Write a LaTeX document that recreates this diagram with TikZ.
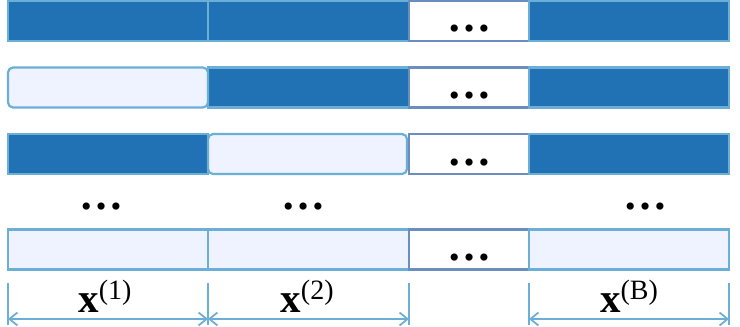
\documentclass[tikz,border=0pt]{standalone}
\usepackage{fontspec}
\setmainfont{Liberation Serif}
\usetikzlibrary{arrows.meta}
\definecolor{darkfill}{HTML}{2171B5}
\definecolor{lightfill}{HTML}{EFF3FF}
\definecolor{cellborder}{HTML}{6BAED6}
\definecolor{dotborder}{HTML}{6C8EBF}
\begin{document}
\begin{tikzpicture}[x=1pt,y=-1pt,
  cell/.style={rectangle, draw=cellborder, line width=2.2pt, inner sep=0pt, minimum height=40pt},
  darkcell/.style={cell, fill=darkfill},
  lightcell/.style={cell, fill=lightfill},
  roundcell/.style={cell, fill=lightfill, rounded corners=5pt},
  dotcell/.style={rectangle, draw=dotborder, line width=2.2pt, fill=white, inner sep=0pt, minimum height=40pt, minimum width=120pt},
  dotstext/.style={inner sep=0pt, font=\fontsize{44}{44}\bfseries\selectfont},
  tick/.style={draw=cellborder, line width=2.2pt},
  dimline/.style={draw=cellborder, line width=2.2pt, {Straight Barb[length=8pt,width=13pt,line width=1.8pt]}-{Straight Barb[length=8pt,width=13pt,line width=1.8pt]}},
  lbl/.style={inner sep=0pt, anchor=base}
]
\useasboundingbox (0,0) rectangle (740,327);
\newcommand{\xlab}[1]{\fontsize{41}{41}\selectfont\textbf{x}\raisebox{13pt}{\fontsize{28}{28}\selectfont(#1)}}
% row 1
\node[darkcell, minimum width=200pt] (a1) at (108,21) {};
\node[darkcell, minimum width=201pt] (a2) at (308.5,21) {};
\node[dotcell] (a3) at (469,21) {};
\node[darkcell, minimum width=200pt] (a4) at (629,21) {};
% row 2
\node[darkcell, minimum width=201pt] (b2) at (308.5,87.5) {};
\node[roundcell, minimum width=200pt] (b1) at (108,87.5) {};
\node[dotcell] (b3) at (469,87.5) {};
\node[darkcell, minimum width=200pt] (b4) at (629,87.5) {};
% row 3
\node[darkcell, minimum width=200pt] (c1) at (108,154) {};
\node[roundcell, minimum width=199pt] (c2) at (307.5,154) {};
\node[dotcell] (c3) at (469,154) {};
\node[darkcell, minimum width=200pt] (c4) at (629,154) {};
% row 5
\node[lightcell, minimum width=200pt] (e1) at (108,249.5) {};
\node[lightcell, minimum width=201pt] (e2) at (308.5,249.5) {};
\node[dotcell] (e3) at (469,249.5) {};
\node[lightcell, minimum width=200pt] (e4) at (629,249.5) {};
% dots in dot cells
\node[dotstext] (ad) at (469,29) {…};
\node[dotstext] (bd) at (469,95.5) {…};
\node[dotstext] (cd) at (469,163) {…};
\node[dotstext] (ed) at (469,257.5) {…};
% row 4 dots
\node[dotstext] (d1) at (101,207) {…};
\node[dotstext] (d2) at (303,207) {…};
\node[dotstext] (d4) at (645,207) {…};
% dimension ticks
\coordinate (t1a) at (8,283);   \coordinate (t1b) at (8,325);
\coordinate (t2a) at (208,283); \coordinate (t2b) at (208,325);
\coordinate (t3a) at (409,283); \coordinate (t3b) at (409,325);
\coordinate (t4a) at (529,283); \coordinate (t4b) at (529,325);
\coordinate (t5a) at (729,283); \coordinate (t5b) at (729,325);
\draw[tick] (t1a) -- (t1b);
\draw[tick] (t2a) -- (t2b);
\draw[tick] (t3a) -- (t3b);
\draw[tick] (t4a) -- (t4b);
\draw[tick] (t5a) -- (t5b);
\coordinate (m1) at (8,319);
\coordinate (m2) at (208,319);
\coordinate (m3) at (409,319);
\coordinate (m4) at (529,319);
\coordinate (m5) at (729,319);
\draw[dimline] (m1) -- (m2);
\draw[dimline] (m2) -- (m3);
\draw[dimline] (m4) -- (m5);
% labels
\node[lbl] (l1) at (105,312) {\xlab{1}};
\node[lbl] (l2) at (307,312) {\xlab{2}};
\node[lbl] (l3) at (629,312) {\xlab{B}};
\end{tikzpicture}
\end{document}
